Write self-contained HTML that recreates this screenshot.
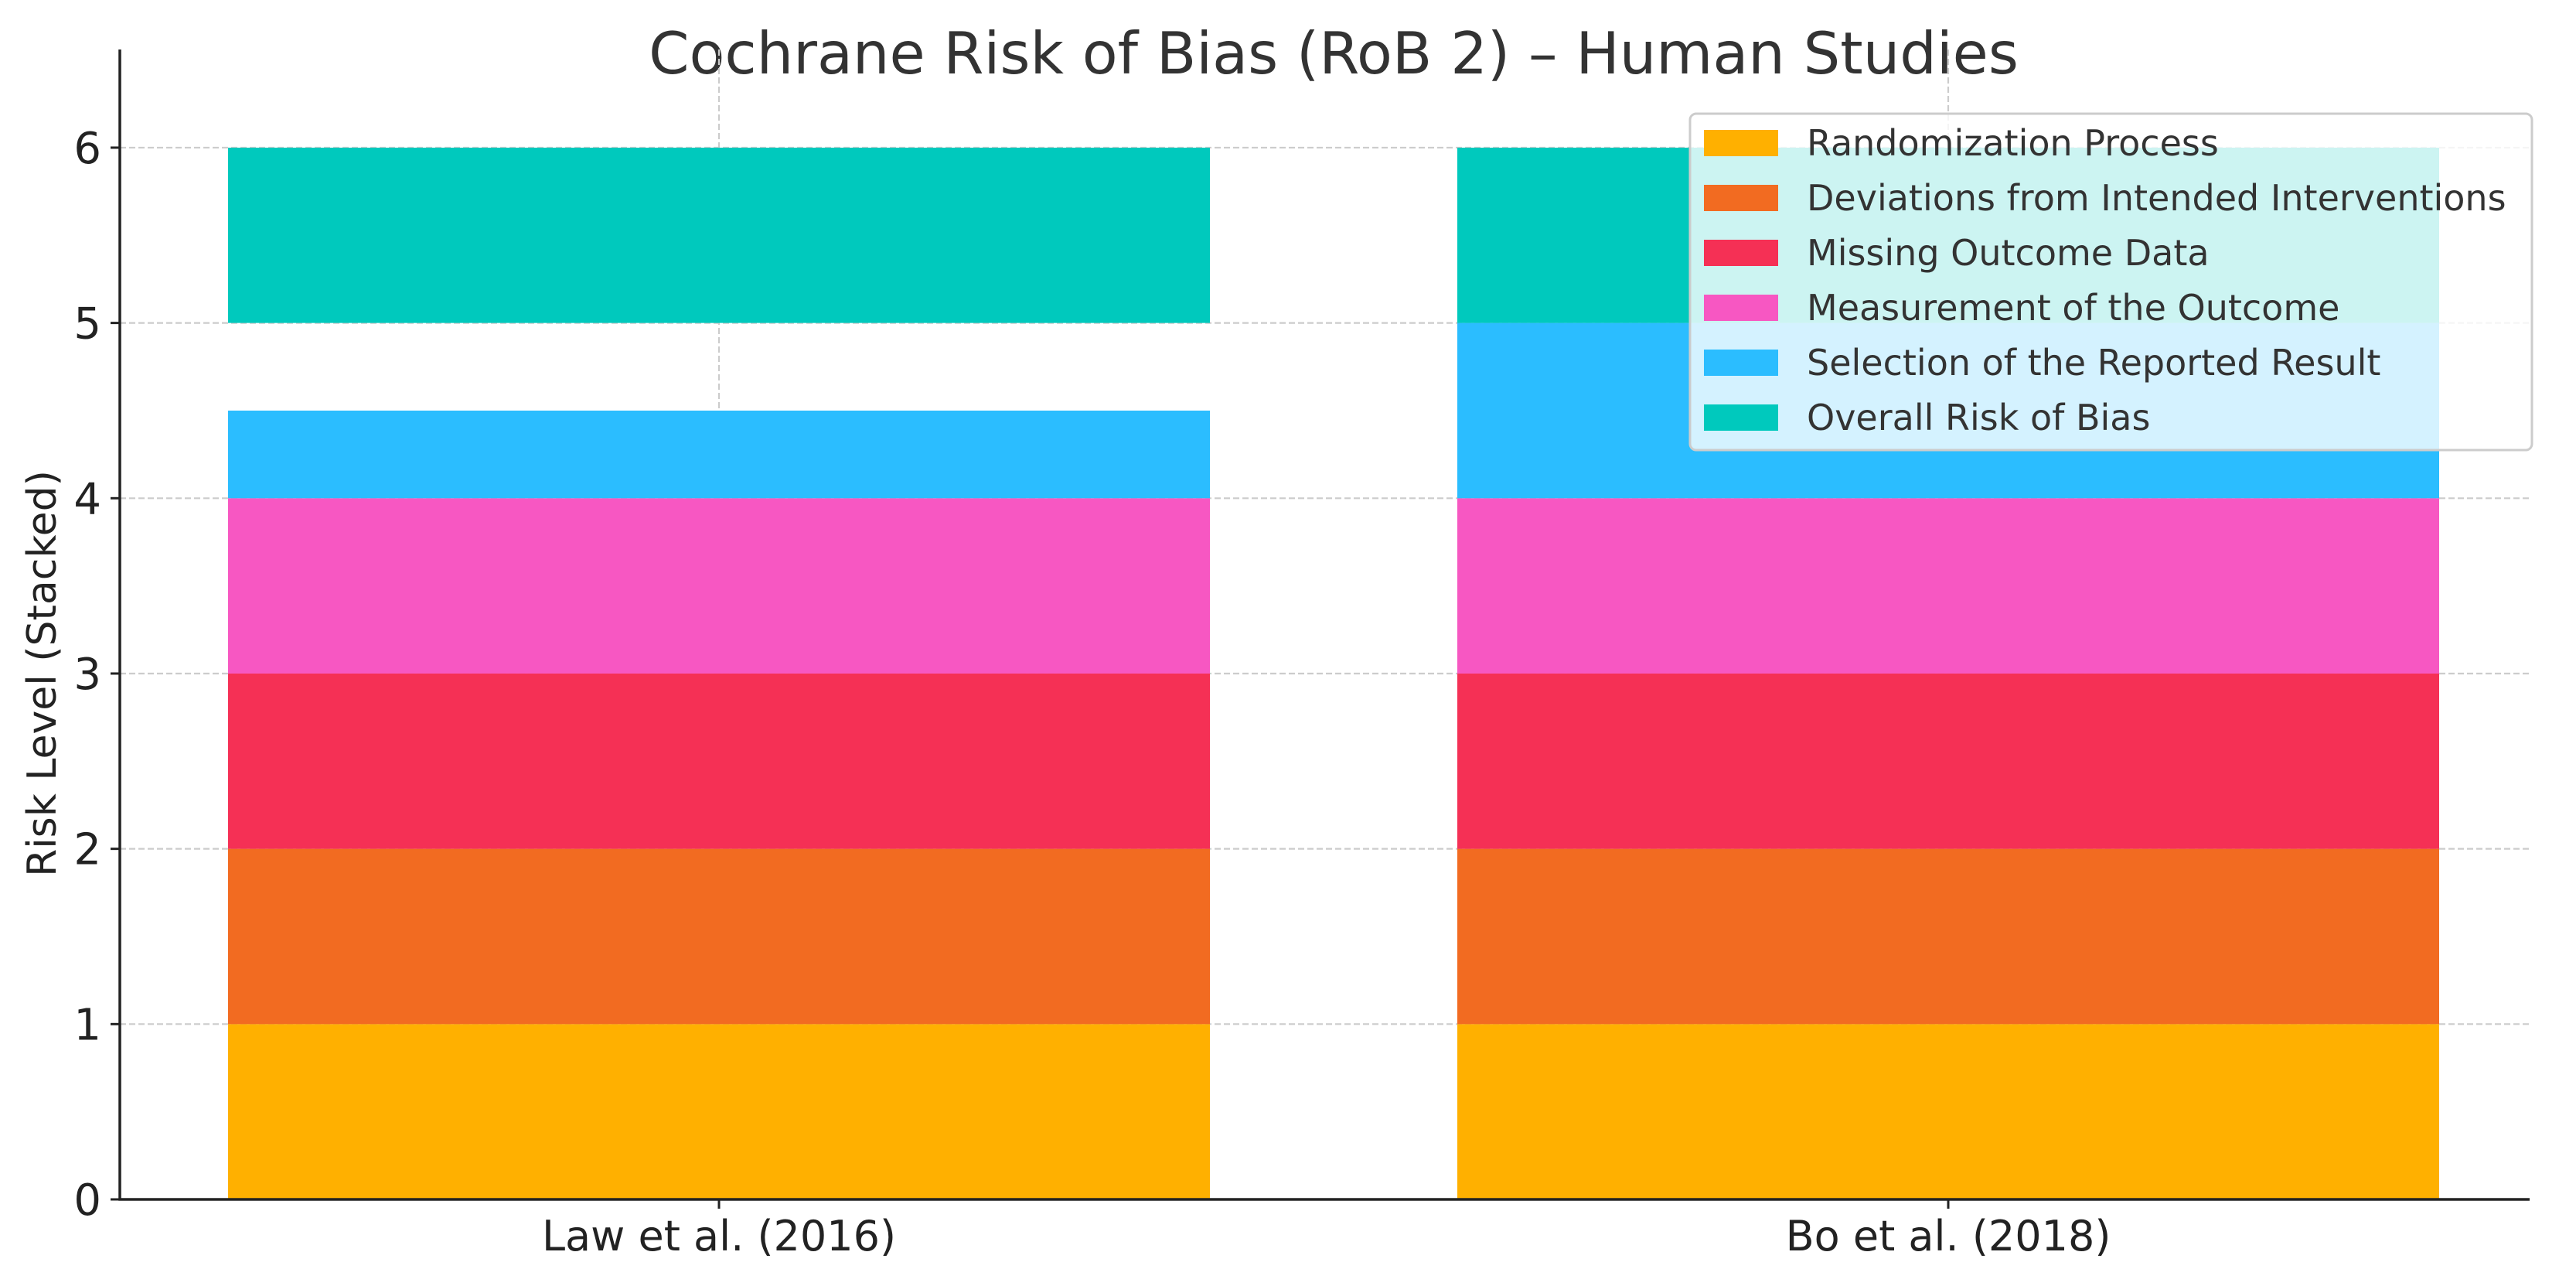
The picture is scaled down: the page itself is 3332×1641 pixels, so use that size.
<!DOCTYPE html>
<html><head><meta charset="utf-8">
<style>
html,body{margin:0;padding:0;background:#fff;}
svg{display:block;font-family:"DejaVu Sans","Liberation Sans",sans-serif;}
</style></head>
<body>
<svg id="chart" width="3332" height="1641" viewBox="0 0 3332 1641" xmlns="http://www.w3.org/2000/svg">
<text x="1725" y="95" font-size="75" fill="#333" text-anchor="middle">Cochrane Risk of Bias (RoB 2) – Human Studies</text>
<text transform="translate(72,871) rotate(-90)" font-size="52" fill="#222" text-anchor="middle">Risk Level (Stacked)</text>
<g id="grid"></g>
<g id="bars"></g>
<g id="axes"></g>
<g id="legend"></g>
</svg>
<script>
const studies = ["Law et al. (2016)", "Bo et al. (2018)"];
const domains = ["Randomization Process","Deviations from Intended Interventions","Missing Outcome Data","Measurement of the Outcome","Selection of the Reported Result","Overall Risk of Bias"];
const randomization = [1, 1];
const deviations = [1, 1];
const missingData = [1, 1];
const measurement = [1, 1];
const selection = [0.5, 1];
const overall = [1, 1];
const overallBase = [5, 5];
const yTicks = [0, 1, 2, 3, 4, 5, 6];
const colors = ["#FFB000","#F26B21","#F53055","#F757C2","#2BBDFF","#00C9BD"];

const NS = "http://www.w3.org/2000/svg";
const plotLeft = 155, plotRight = 3272, plotTop = 64, plotBottom = 1551;
const yMin = 0, yMax = 6.56;
const xCenters = [930, 2520], barW = 1270;
function y(v){ return plotBottom - (v - yMin) / (yMax - yMin) * (plotBottom - plotTop); }
function xc(i){ return xCenters[i]; }
function mk(tag, attrs, parent){ const e = document.createElementNS(NS, tag); for (const k in attrs) e.setAttribute(k, attrs[k]); parent.appendChild(e); return e; }

const grid = document.getElementById('grid'), bars = document.getElementById('bars'), axes = document.getElementById('axes'), legend = document.getElementById('legend');

yTicks.forEach(t => {
  if (t > 0) {
    const l = mk('line', {x1:plotLeft, x2:plotRight, y1:y(t), y2:y(t), stroke:'#cccccc', 'stroke-width':2.2, 'stroke-dasharray':'8,4'}, grid);
    
    
  }
  const tx = mk('text', {x:plotLeft-24, y:y(t)+20, 'font-size':56, fill:'#222', 'text-anchor':'end'}, axes);
  tx.textContent = t;
  
  
  const tk = mk('line', {x1:plotLeft-12, x2:plotLeft, y1:y(t), y2:y(t), stroke:'#222', 'stroke-width':3}, axes);
  
  
});
studies.forEach((s, i) => {
  const l = mk('line', {x1:xc(i), x2:xc(i), y1:plotTop, y2:plotBottom, stroke:'#cccccc', 'stroke-width':2.2, 'stroke-dasharray':'8,4'}, grid);
  
  
});

const series = [randomization, deviations, missingData, measurement, selection];
studies.forEach((s, i) => {
  let base = 0;
  series.forEach((arr, k) => {
    const r = mk('rect', {x:xc(i)-barW/2, y:y(base+arr[i]), width:barW, height:y(base)-y(base+arr[i]), fill:colors[k]}, bars);
    
    
    base += arr[i];
  });
  const r = mk('rect', {x:xc(i)-barW/2, y:y(overallBase[i]+overall[i]), width:barW, height:y(overallBase[i])-y(overallBase[i]+overall[i]), fill:colors[5]}, bars);
  
  
  const tk = mk('line', {x1:xc(i), x2:xc(i), y1:plotBottom, y2:plotBottom+12, stroke:'#222', 'stroke-width':3}, axes);
  
  
  const tx = mk('text', {x:xc(i), y:plotBottom+66, 'font-size':54, fill:'#222', 'text-anchor':'middle'}, axes);
  tx.textContent = s;
  
  
});
const ax = mk('path', {d:`M${plotLeft},${plotTop} L${plotLeft},${plotBottom} L${plotRight},${plotBottom}`, fill:'none', stroke:'#222', 'stroke-width':3.5}, axes);



const box = mk('rect', {x:2186, y:147, width:1089, height:435, rx:8, fill:'rgba(255,255,255,0.8)', stroke:'#cccccc', 'stroke-width':3}, legend);


domains.forEach((d, k) => {
  const cy = 185 + k * 71;
  const sw = mk('rect', {x:2204, y:cy-17, width:96, height:34, fill:colors[k]}, legend);
  
  
  const t = mk('text', {x:2337, y:cy+16, 'font-size':46, fill:'#333'}, legend);
  t.textContent = d;
  
  
});
</script>
</body></html>
